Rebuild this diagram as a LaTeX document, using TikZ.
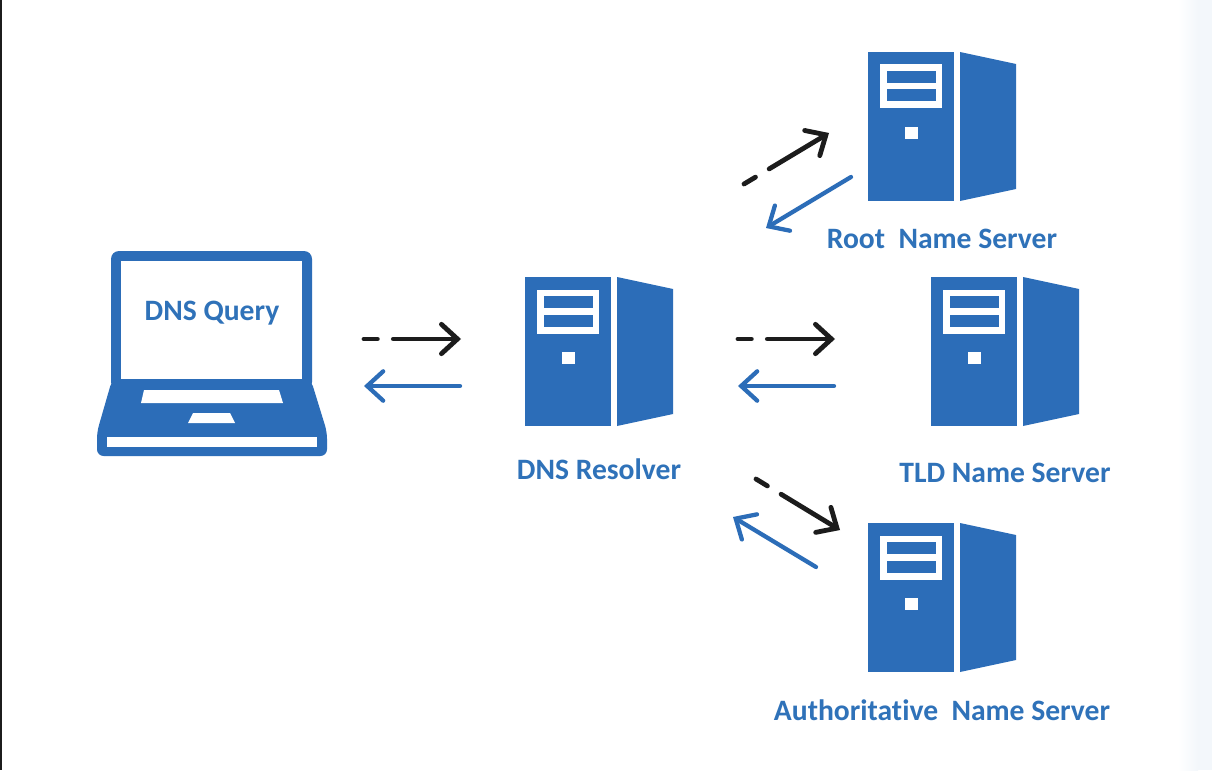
\documentclass[tikz,border=0pt]{standalone}
\usepackage{fontspec}
\setmainfont{Carlito}[Ligatures=NoCommon]
\usetikzlibrary{arrows.meta}
\definecolor{dnsblue}{HTML}{2C6DB8}
\definecolor{dnstext}{HTML}{2F72B9}
\definecolor{dnsblack}{HTML}{1C1C1C}
\definecolor{stripgrey}{HTML}{F3F7FB}
\tikzstyle{srvbody}=[fill=dnsblue, minimum width=64.5pt, minimum height=111.75pt, inner sep=0pt]
\tikzstyle{srvwin}=[fill=white, minimum width=47pt, minimum height=33pt, inner sep=0pt]
\tikzstyle{srvbar}=[fill=dnsblue, minimum width=37pt, minimum height=9pt, inner sep=0pt]
\tikzstyle{srvled}=[fill=white, minimum width=9.75pt, minimum height=9pt, inner sep=0pt]
\tikzstyle{lab}=[text=dnstext, font=\fontsize{22.2}{22.2}\selectfont\bfseries, inner sep=0pt]
\tikzstyle{req}=[draw=dnsblack, line width=3.6pt, dash pattern=on 10pt off 12pt on 200pt, ->]
\tikzstyle{rep}=[draw=dnsblue, line width=3.2pt, ->]
% draws one tower, body node gets the name
\newcommand{\serverbox}[3]{
  \begin{scope}[shift={(#2,#3)}]
    \node[srvbody] (#1) at (43,74.5) {};
    \fill[dnsblue] (92,0) -- (148,12) -- (148,137) -- (92,149) -- cycle;
    \node[srvwin] (#1win) at (43,34.5) {};
    \node[srvbar] (#1bar1) at (43.5,25) {};
    \node[srvbar] (#1bar2) at (43.5,43.5) {};
    \node[srvled] (#1led) at (43.5,81) {};
  \end{scope}
}

\begin{document}
\begin{tikzpicture}[x=0.75pt,y=-0.75pt,>={Straight Barb[length=12pt,width=22pt,line cap=round]},line cap=round]
  \useasboundingbox (0,0) rectangle (1212,770);
  \fill[white] (0,0) rectangle (1212,770);
  \shade[left color=white,right color=stripgrey] (1178,0) rectangle (1198,770);
  \fill[stripgrey] (1198,0) rectangle (1212,770);
  \fill[dnsblack] (0,0) rectangle (1.5,770);

  % laptop
  \fill[dnsblue,rounded corners=6pt] (111,251) rectangle (312,390);
  \fill[dnsblue,rounded corners=5pt] (112,380) -- (311,380) -- (327,432) -- (327,456) -- (97,456) -- (97,432) -- cycle;
  \node[fill=white,minimum width=135.75pt,minimum height=88.5pt,inner sep=0pt] (screen) at (211.5,320) {};
  \node[lab] (query) at (212,313) {DNS Query};
  \fill[white] (144,390) -- (279,390) -- (283,403) -- (141,403) -- cycle;
  \fill[white] (193,413) -- (230,413) -- (235,423) -- (188,423) -- cycle;
  \node[fill=white,minimum width=157.5pt,minimum height=7.5pt,inner sep=0pt] (kbd) at (212,442) {};

  \serverbox{resolver}{525}{277}
  \serverbox{root}{868}{52}
  \serverbox{tld}{931}{277}
  \serverbox{auth}{868}{523}

  \node[lab] (resolverlab) at (599,469) {DNS Resolver};
  \node[lab] (rootlab) at (942,239) {Root\ \ Name Server};
  \node[lab] (tldlab) at (1005,473) {TLD Name Server};
  \node[lab] (authlab) at (942,710) {Authoritative\ \ Name Server};

  \coordinate (lapout) at (364,339);
  \coordinate (lapin) at (364,386);
  \coordinate (resin) at (461,339);
  \coordinate (resback) at (460,386);
  \coordinate (resout) at (738,339);
  \coordinate (resret) at (738,386);
  \coordinate (tldin) at (835,339);
  \coordinate (tldback) at (834,386);
  \coordinate (rootfrom) at (744,184);
  \coordinate (rootin) at (829,133);
  \coordinate (rootback) at (851,177);
  \coordinate (rootret) at (766,228);
  \coordinate (authfrom) at (756,479);
  \coordinate (authin) at (840,530);
  \coordinate (authback) at (816,567);
  \coordinate (authret) at (733,517);

  \draw[req] (lapout) -- (resin);
  \draw[rep] (resback) -- (lapin);
  \draw[req] (resout) -- (tldin);
  \draw[rep] (tldback) -- (resret);
  \draw[req] (rootfrom) -- (rootin);
  \draw[rep] (rootback) -- (rootret);
  \draw[req] (authfrom) -- (authin);
  \draw[rep] (authback) -- (authret);
\end{tikzpicture}
\end{document}
